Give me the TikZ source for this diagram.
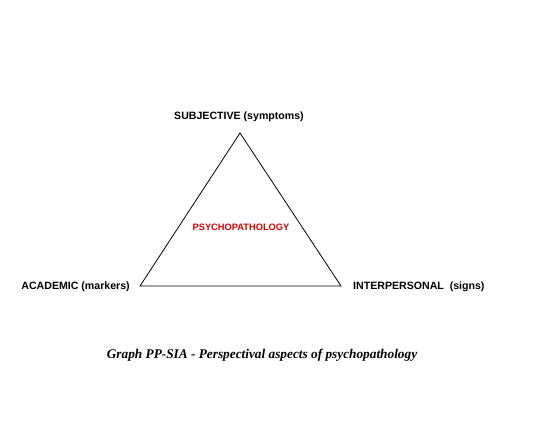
\documentclass[tikz,border=0pt]{standalone}
\usepackage{fontspec}
\setmainfont{Liberation Sans}
\newfontfamily\capfont{Liberation Serif}
\begin{document}
\begin{tikzpicture}[x=1pt,y=-1pt,
  lbl/.style={font=\fontsize{10.6}{12}\selectfont\bfseries, inner sep=0pt},
  side/.style={draw=black, line width=0.8pt}]
\useasboundingbox (0,0) rectangle (559,444);
\coordinate (T) at (240,133);
\coordinate (L) at (140,286);
\coordinate (R) at (341,286);
\draw[side, line join=miter] (T) -- (L) -- (R) -- cycle;
\node[lbl] (subj) at (239,117) {SUBJECTIVE (symptoms)};
\node[lbl, anchor=east] (acad) at (130,287) {ACADEMIC (markers)};
\node[lbl, anchor=west] (inter) at (353,287) {INTERPERSONAL\ \ (signs)};
\node[lbl, font=\fontsize{9.3}{11}\selectfont\bfseries, text=red!85!black] (psy) at (241,227) {PSYCHOPATHOLOGY};
\node[font=\capfont\fontsize{13.3}{15}\selectfont\bfseries\itshape, inner sep=0pt] (cap) at (262,355) {Graph PP-SIA - Perspectival aspects of psychopathology};
\end{tikzpicture}
\end{document}
